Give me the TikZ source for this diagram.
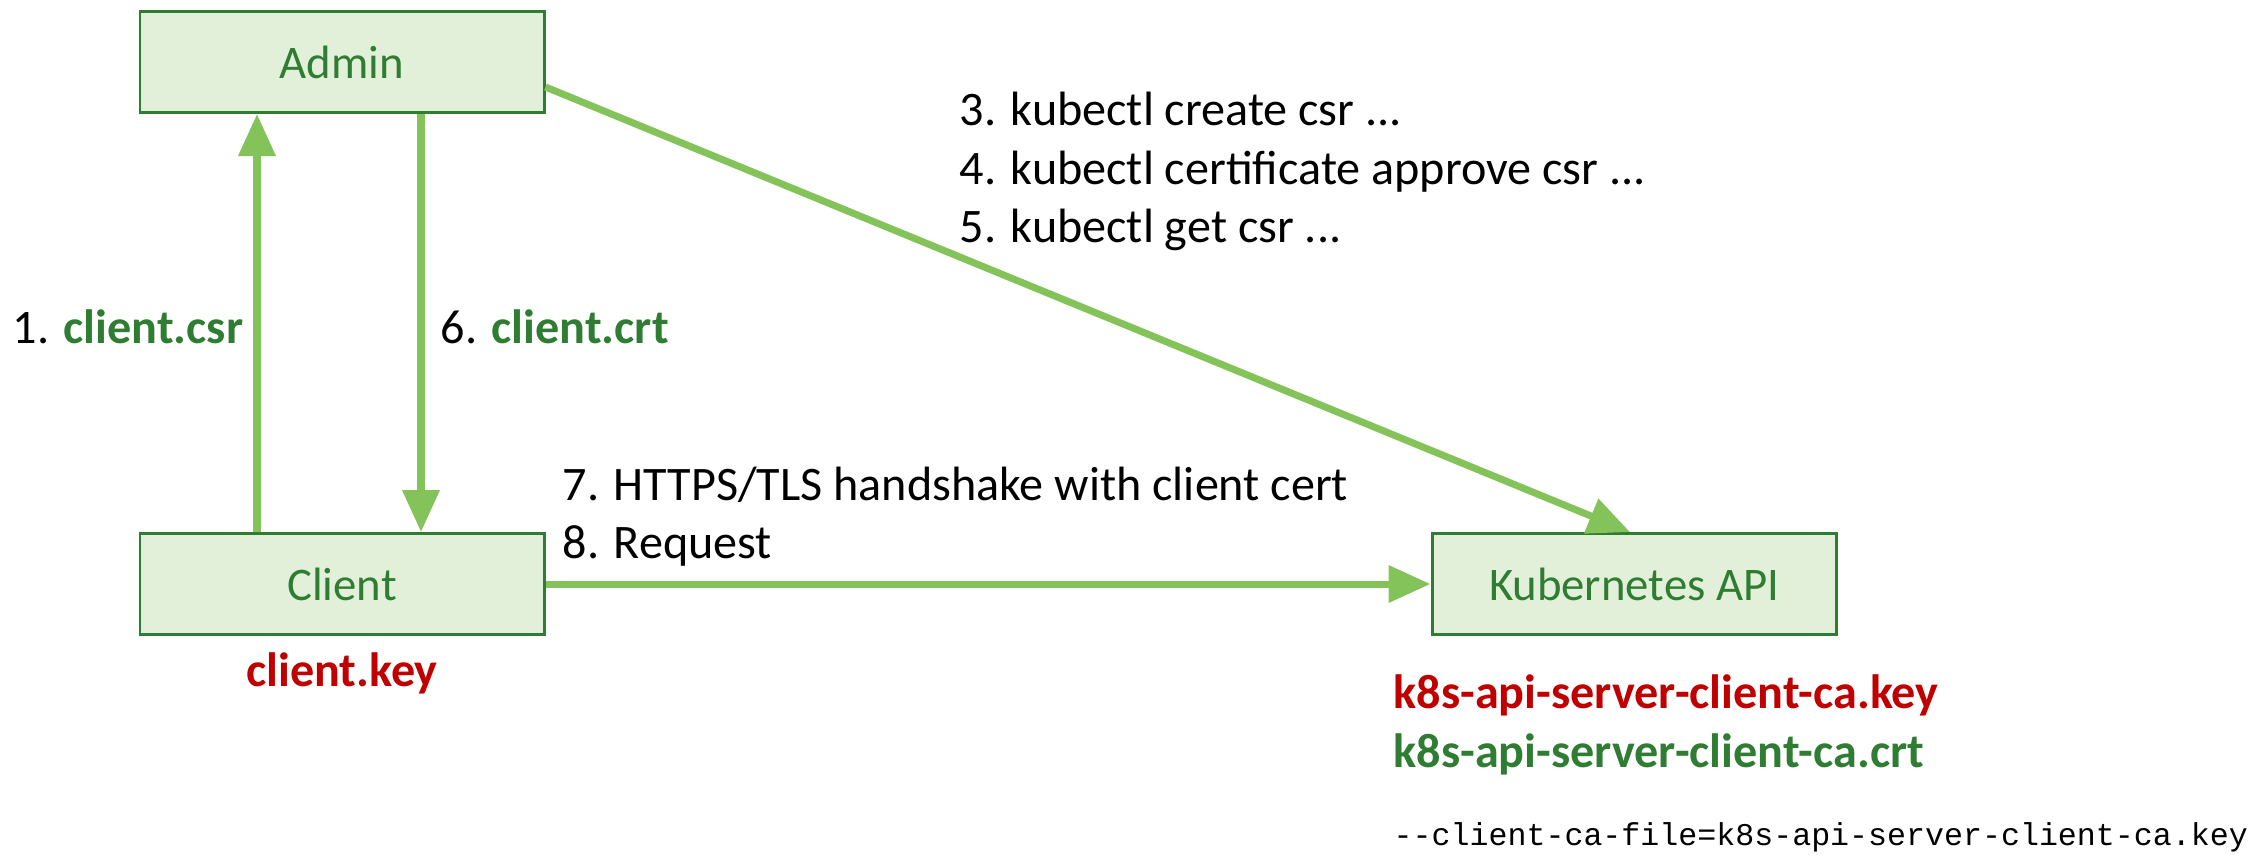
\documentclass[tikz,border=0pt]{standalone}
\usepackage{fontspec}
\setmainfont{Carlito}
\setmonofont{Liberation Mono}
\usetikzlibrary{arrows.meta,positioning}
\definecolor{boxfill}{HTML}{E2F0D9}
\definecolor{boxline}{HTML}{2E7D32}
\definecolor{flowgreen}{HTML}{84C25A}
\definecolor{keyred}{HTML}{C00000}

\begin{document}
\begin{tikzpicture}[node distance=2cm,on grid,
    box/.style={draw=boxline,line width=0.85pt,fill=boxfill,text=boxline,
      minimum width=4.04cm,minimum height=1.01cm,font=\fontsize{13.3}{16}\selectfont},
    lbl/.style={inner sep=0pt,anchor=base west,font=\fontsize{13.7}{16.4}\selectfont},
    flow/.style={->,color=flowgreen,line width=2pt},
    >={Triangle[length=0.42cm,width=0.36cm]}]
   \useasboundingbox (0,0) rectangle (22.61,-8.54);
   \node[box] (admin) at (3.42,-0.62) {Admin};
   \node[box] (client) [below=5.22cm of admin] {Client};
   \node[box] (api) [right=12.92cm of client] {Kubernetes API};
    \path[flow]
    ([xshift=-0.85cm]client.north) edge ([xshift=-0.85cm]admin.south)
    ([xshift=0.79cm]admin.south) edge ([xshift=0.79cm]client.north)
    ([yshift=-0.25cm]admin.east) edge ([xshift=-0.04cm]api.north)
    (client) edge (api);
   % steps
   \node[lbl] (csr) at (0.12,-3.43) {1. \textbf{\color{boxline}client.csr}};
   \node[lbl] (crt) at (4.40,-3.43) {6. \textbf{\color{boxline}client.crt}};
   \node[lbl] (create) at (9.59,-1.25) {3. kubectl create csr ...};
   \node[lbl] (approve) at (9.59,-1.84) {4. kubectl certificate approve csr ...};
   \node[lbl] (get) at (9.59,-2.42) {5. kubectl get csr ...};
   \node[lbl] (tls) at (5.62,-5.00) {7. HTTPS/TLS handshake with client cert};
   \node[lbl] (request) at (5.62,-5.58) {8. Request};
   % keys
   \node[lbl,anchor=base,font=\fontsize{13.7}{16.4}\selectfont\bfseries,text=keyred] (clientkey) at (3.42,-6.86) {client.key};
   \node[lbl,font=\fontsize{13.7}{16.4}\selectfont\bfseries,text=keyred] (cakey) at (13.93,-7.08) {k8s-api-server-client-ca.key};
   \node[lbl,font=\fontsize{13.7}{16.4}\selectfont\bfseries,text=boxline] (cacrt) at (13.93,-7.67) {k8s-api-server-client-ca.crt};
   \node[lbl,font=\fontsize{9.0}{10}\ttfamily] (flag) at (13.93,-8.45) {--client-ca-file=k8s-api-server-client-ca.key};
\end{tikzpicture}
\end{document}
